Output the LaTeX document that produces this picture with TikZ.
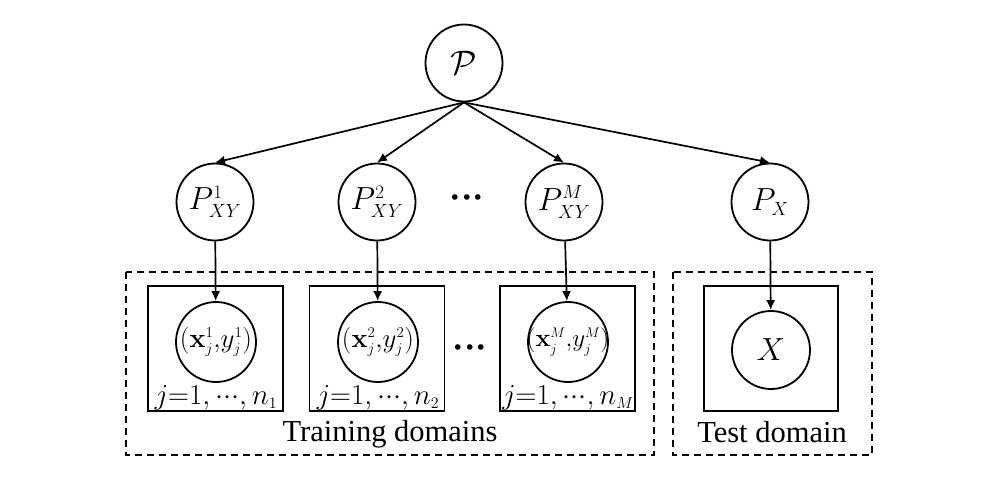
\documentclass[tikz,border=0pt]{standalone}
\usepackage{fix-cm}
\usepackage{amsmath,amssymb,bm}
\usepackage[no-math]{fontspec}
\setmainfont{Liberation Serif}
\usetikzlibrary{arrows.meta}

% small scripts, as in the figure
\DeclareMathSizes{32}{32}{19}{14}
\DeclareMathSizes{29}{29}{16}{12}
\DeclareMathSizes{27}{27}{15}{11}
\DeclareMathSizes{25}{25}{14}{10}
\newcommand{\dotrow}{\mathord{\cdotp}\mathord{\cdotp}\mathord{\cdotp}}

\begin{document}
\begin{tikzpicture}[x=1pt,y=-1pt,
  var/.style={draw,circle,line width=1.8pt,minimum size=77pt,inner sep=0pt,font=\fontsize{32}{36}\selectfont},
  obs/.style={draw,circle,line width=1.8pt,minimum size=80pt,inner sep=-5pt,font=\fontsize{27}{30}\selectfont},
  plate/.style={draw,line width=1.9pt,minimum width=135pt,minimum height=125pt,inner sep=0pt},
  domainbox/.style={draw,line width=1.8pt,dash pattern=on 7pt off 5pt},
  edge/.style={line width=1.7pt,-{Latex[length=10pt,width=9pt]}},
  lbl/.style={font=\fontsize{30.5}{34}\selectfont},
  idx/.style={font=\fontsize{29}{32}\selectfont}]
\useasboundingbox (0,0) rectangle (1002,482);
% top prior
\node[var,font=\fontsize{34}{38}\selectfont] (P) at (464,63) {$\mathcal{P}$};
% domain distributions
\node[var] (p1) at (215,202) {$P^{1}_{XY}$};
\node[var] (p2) at (377,202) {$P^{2}_{XY}$};
\node[var] (pM) at (564,202) {$P^{M}_{XY}$};
\node[var] (pX) at (770,202) {$P_{X}$};
\node[font=\fontsize{36}{40}\selectfont] (dots1) at (467,198) {$\bm{\dotrow}$};
% plates
\node[plate] (b1) at (215.5,348.5) {};
\node[plate] (b2) at (377,348.5) {};
\node[plate] (bM) at (567.5,348.5) {};
\node[plate,minimum width=134pt] (bX) at (771,348.5) {};
\node[obs] (d1) at (216,342) {$(\mathbf{x}^{1}_{j}{,}y^{1}_{j})$};
\node[obs] (d2) at (378,342) {$(\mathbf{x}^{2}_{j}{,}y^{2}_{j})$};
\node[obs,font=\fontsize{25}{28}\selectfont] (dM) at (568,342) {$(\mathbf{x}^{M}_{j}{,}y^{M}_{j})$};
\node[obs,minimum size=78pt,font=\fontsize{32}{36}\selectfont] (x) at (771,350) {$X$};
\node[idx,anchor=base] (n1) at (216,404) {$j{=}1,\dotrow,n_1$};
\node[idx,anchor=base] (n2) at (378,404) {$j{=}1,\dotrow,n_2$};
\node[idx,anchor=base] (nM) at (568,404) {$j{=}1,\dotrow,n_M$};
\node[font=\fontsize{36}{40}\selectfont] (dots2) at (470,348) {$\bm{\dotrow}$};
% dashed domain frames
\draw[domainbox] (126,272) rectangle (654,455);
\draw[domainbox] (673,272) rectangle (872,455);
\node[lbl] (tr) at (390,434) {Training domains};
\node[lbl] (te) at (772,432) {Test domain};
% edges
\foreach \t in {p1,p2,pM,pX} {\draw[edge] (P.south) -- (\t.north);}
\draw[edge] (p1) -- (d1);
\draw[edge] (p2) -- (d2);
\draw[edge] (pM) -- (dM);
\draw[edge] (pX) -- (x);
\end{tikzpicture}
\end{document}
